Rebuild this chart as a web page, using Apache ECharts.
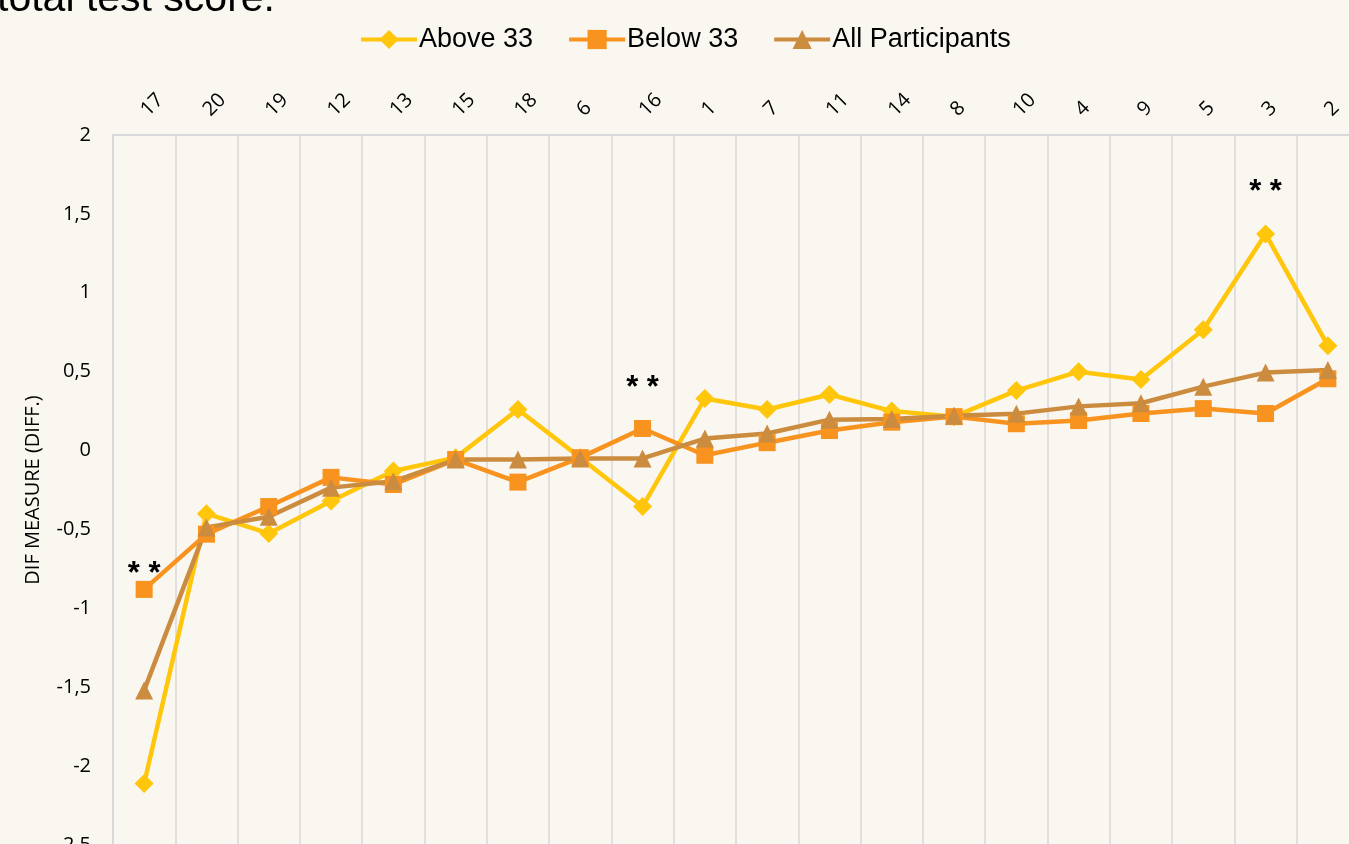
<!DOCTYPE html>
<html>
<head>
<meta charset="utf-8">
<title>DIF measure by item</title>
<script src="https://cdn.jsdelivr.net/npm/echarts@6/dist/echarts.min.js"></script>
<style>
  html, body { margin: 0; padding: 0; background: #faf7f0; }
  #chart { width: 1349px; height: 844px; }
</style>
</head>
<body>
<div id="chart"></div>
<script>
// item numbers, in the order shown on the axis
var items = ['17', '20', '19', '12', '13', '15', '18', '6', '16', '1', '7', '11', '14', '8', '10', '4', '9', '5', '3', '2'];

var above33 = [-2.11, -0.40, -0.525, -0.32, -0.13, -0.045, 0.26, -0.045, -0.355, 0.33, 0.26, 0.355, 0.25, 0.215, 0.38, 0.50, 0.45, 0.766, 1.373, 0.665];
var below33 = [-0.88, -0.53, -0.355, -0.17, -0.215, -0.057, -0.20, -0.045, 0.14, -0.03, 0.05, 0.127, 0.18, 0.215, 0.17, 0.19, 0.235, 0.266, 0.235, 0.455];
var allParticipants = [-1.52, -0.487, -0.42, -0.235, -0.195, -0.057, -0.057, -0.05, -0.05, 0.076, 0.108, 0.196, 0.20, 0.22, 0.234, 0.28, 0.30, 0.405, 0.494, 0.51];

// points flagged as significant (**)
var sigBelow = [0, 8];
var sigAbove = [18];

var myChart = echarts.init(document.getElementById('chart'));

function withStars(values, sigList, offsets) {
  return values.map(function (v, i) {
    var k = sigList.indexOf(i);
    if (k < 0) return v;
    return {
      value: v,
      label: {
        show: true,
        position: 'inside',
        offset: [0, offsets[k]],
        formatter: '* *',
        color: '#000',
        fontSize: 31,
        fontWeight: 'bold',
        fontFamily: 'Liberation Sans'
      }
    };
  });
}

var option = {
  backgroundColor: '#faf7f0',
  animation: false,
  graphic: [{
    type: 'text',
    left: -3,
    top: -21,
    style: {
      text: 'total test score.',
      fontSize: 41,
      fontFamily: 'Liberation Sans',
      fill: '#000'
    }
  }],
  legend: {
    left: 354,
    top: 21,
    itemWidth: 56,
    itemHeight: 24,
    itemGap: 34,
    lineStyle: { width: 4 },
    textStyle: { fontSize: 27, fontFamily: 'Liberation Sans', color: '#000', padding: [0, 0, 0, -3] },
    data: ['Above 33', 'Below 33', 'All Participants']
  },
  grid: {
    left: 113,
    top: 135,
    right: -10,
    bottom: -1,
    outerBoundsMode: 'none',
    containLabel: false
  },
  xAxis: {
    type: 'category',
    position: 'top',
    data: items,
    boundaryGap: true,
    axisLine: { show: true, onZero: false, lineStyle: { color: '#d9d9d9', width: 2 } },
    axisTick: { show: false },
    axisLabel: {
      rotate: -45,
      margin: 22,
      fontSize: 20,
      fontFamily: 'Open Sans',
      color: '#000'
    },
    splitLine: { show: true, lineStyle: { color: '#d9d9d9', width: 1.5 } }
  },
  yAxis: {
    type: 'value',
    min: -2.5,
    max: 2,
    interval: 0.5,
    name: 'DIF MEASURE (DIFF.)',
    nameLocation: 'middle',
    nameGap: 70,
    nameTextStyle: { fontSize: 20, fontFamily: 'Open Sans', color: '#000' },
    axisLine: { show: true, lineStyle: { color: '#d9d9d9', width: 2 } },
    axisTick: { show: false },
    splitLine: { show: false },
    axisLabel: {
      margin: 22,
      fontSize: 20,
      fontFamily: 'Open Sans',
      color: '#000',
      formatter: function (v) { return String(v).replace('.', ','); }
    }
  },
  series: [
    {
      name: 'Above 33',
      type: 'line',
      data: withStars(above33, sigAbove, [-41]),
      symbol: 'diamond',
      symbolSize: 19,
      color: '#ffc60b',
      lineStyle: { width: 4.5 },
      itemStyle: { color: '#ffc60b' }
    },
    {
      name: 'Below 33',
      type: 'line',
      data: withStars(below33, sigBelow, [-15, -40]),
      symbol: 'rect',
      symbolSize: 17,
      color: '#f7931e',
      lineStyle: { width: 4.5 },
      itemStyle: { color: '#f7931e' }
    },
    {
      name: 'All Participants',
      type: 'line',
      data: allParticipants,
      symbol: 'triangle',
      symbolSize: 18,
      color: '#cc8c3f',
      lineStyle: { width: 4.5 },
      itemStyle: { color: '#cc8c3f' }
    }
  ]
};

myChart.setOption(option);
</script>
</body>
</html>
